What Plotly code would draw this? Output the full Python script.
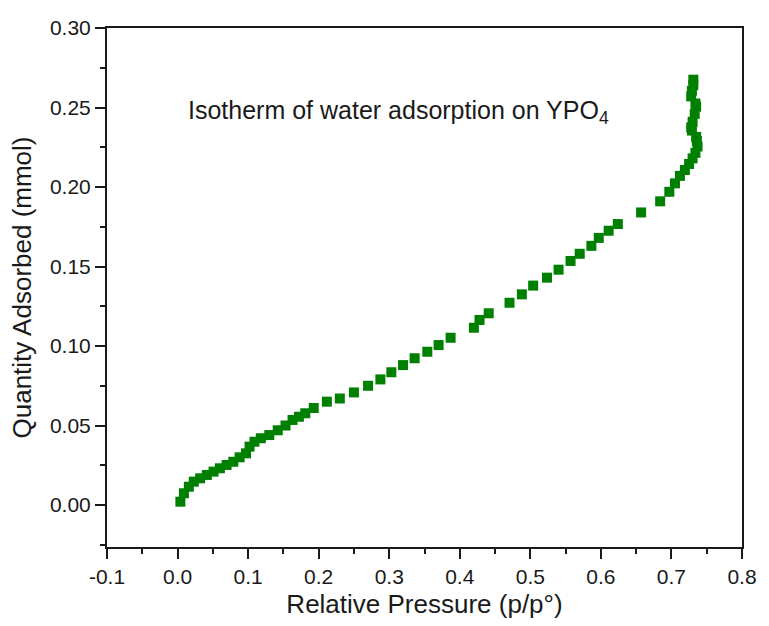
import plotly.graph_objects as go

rel_pressure = [0.004, 0.009, 0.016, 0.023, 0.032, 0.0415, 0.051, 0.060, 0.0695, 0.079,
                0.088, 0.097, 0.102, 0.109, 0.118, 0.130, 0.142, 0.153, 0.163, 0.172,
                0.181, 0.193, 0.2116, 0.230, 0.250, 0.270, 0.2875, 0.303, 0.3196, 0.336,
                0.354, 0.370, 0.387, 0.420, 0.428, 0.441, 0.4705, 0.488, 0.504, 0.5236,
                0.540, 0.557, 0.570, 0.5865, 0.597, 0.611, 0.624, 0.657, 0.684, 0.697,
                0.705, 0.712, 0.719, 0.725, 0.730, 0.734, 0.737, 0.736, 0.735, 0.729,
                0.728, 0.730, 0.733, 0.735, 0.734, 0.728, 0.729, 0.731, 0.731]
quantity = [0.0021, 0.0074, 0.0115, 0.0147, 0.0168, 0.0189, 0.021, 0.0231, 0.0252, 0.0272,
            0.030, 0.0325, 0.0367, 0.0398, 0.042, 0.044, 0.047, 0.050, 0.0535, 0.0555,
            0.0577, 0.061, 0.065, 0.067, 0.0708, 0.075, 0.079, 0.0835, 0.088, 0.0923,
            0.0964, 0.1006, 0.1052, 0.1115, 0.1164, 0.1206, 0.1272, 0.1325, 0.138, 0.143,
            0.148, 0.1535, 0.158, 0.163, 0.168, 0.1725, 0.1767, 0.184, 0.191, 0.197,
            0.2023, 0.207, 0.2107, 0.2145, 0.218, 0.2215, 0.2255, 0.229, 0.2315, 0.2355,
            0.2375, 0.241, 0.246, 0.2505, 0.2525, 0.257, 0.2605, 0.264, 0.2675]

x_ticks = [-0.1, 0.0, 0.1, 0.2, 0.3, 0.4, 0.5, 0.6, 0.7, 0.8]
x_labels = ["-0.1", "0.0", "0.1", "0.2", "0.3", "0.4", "0.5", "0.6", "0.7", "0.8"]
y_ticks = [0.00, 0.05, 0.10, 0.15, 0.20, 0.25, 0.30]
y_labels = ["0.00", "0.05", "0.10", "0.15", "0.20", "0.25", "0.30"]

FONT = "Arial, Liberation Sans, sans-serif"
INK = "#1a1a1a"

fig = go.Figure()
fig.add_trace(go.Scatter(
    x=rel_pressure, y=quantity, mode="markers",
    marker=dict(symbol="square", size=10, color="#008000", line=dict(width=0)),
    showlegend=False,
))

axis_common = dict(
    showgrid=False, zeroline=False, showline=True, linecolor=INK, linewidth=2,
    mirror=True, ticks="outside", ticklen=10, tickwidth=1.8, tickcolor=INK,
    tickfont=dict(family=FONT, size=21, color=INK),
    minor=dict(ticks="outside", ticklen=5, tickwidth=1.8, tickcolor=INK, showgrid=False),
)

fig.update_xaxes(
    range=[-0.1, 0.8], tickvals=x_ticks, ticktext=x_labels,
    minor_dtick=0.05, minor_tick0=-0.1,
    title=dict(text="Relative Pressure (p/p°)", font=dict(family=FONT, size=26, color=INK), standoff=8),
    **axis_common,
)
fig.update_yaxes(
    range=[-0.0264, 0.30], tickvals=y_ticks, ticktext=y_labels,
    minor_dtick=0.025, minor_tick0=0.0,
    title=dict(text="Quantity Adsorbed (mmol)", font=dict(family=FONT, size=26, color=INK), standoff=11),
    **axis_common,
)

fig.add_annotation(
    x=0.012, y=0.247, xref="x", yref="y", xanchor="left", yanchor="middle",
    text="Isotherm of water adsorption on YPO<sub>4</sub>", showarrow=False,
    font=dict(family=FONT, size=25, color=INK),
)

fig.update_layout(
    width=769, height=626,
    margin=dict(l=107, r=18, t=28, b=79),
    paper_bgcolor="white", plot_bgcolor="white",
)

fig.write_html("out.html")
